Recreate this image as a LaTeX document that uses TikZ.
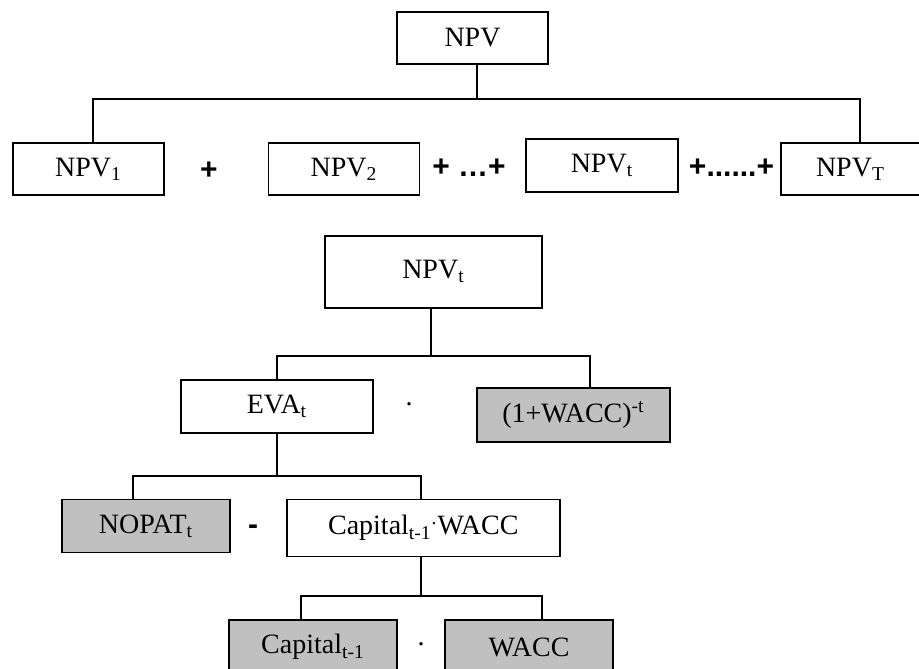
\documentclass[tikz,border=0pt]{standalone}
\usepackage{fontspec}
\setmainfont{Liberation Serif}
\newfontfamily\opfont{Liberation Sans}
\definecolor{boxgrey}{RGB}{192,192,192}
\tikzset{
  box/.style n args={2}{draw, fill=white, inner sep=0pt,
    minimum width=#1*0.5pt, minimum height=#2*0.5pt},
  greybox/.style n args={2}{box={#1}{#2}, fill=boxgrey},
  op/.style={font=\fontsize{15}{17}\opfont\bfseries},
}
\begin{document}
\begin{tikzpicture}[x=0.5pt, y=-0.5pt, line width=0.9pt,
    font=\fontsize{14}{16}\selectfont]
  \useasboundingbox (0,0) rectangle (919,668);
  \def\Ya{98.7}
  \def\Yb{356}
  \def\Yc{476}
  \def\Yd{596}

  % sum of the yearly values
  \node[box={151}{52}] (npv) at (472.5,38) {NPV};
  \node[box={151}{52}] (npvone) at (88.5,169) {NPV\textsubscript{1}};
  \node[op] (plusone) at (209,171) {+};
  \node[box={151}{52}] (npvtwo) at (344,169) {NPV\textsubscript{2}};
  \node[op] (dotsone) at (469,168) {+ …+};
  \node[box={152}{53}] (npvt) at (602,165.5) {NPV\textsubscript{t}};
  \node[op] (dotstwo) at (731.5,168) {+......+};
  \node[box={139}{52}] (npvT) at (850.5,169) {NPV\textsubscript{T}};

  \coordinate (stema) at (477,\Ya);
  \coordinate (busal) at (92.6,\Ya);
  \coordinate (busar) at (860,\Ya);
  \draw (npv.south -| stema) -- (stema);
  \draw (npvone.north -| busal) -- (busal) -- (busar) -- (npvT.north -| busar);

  % one year
  \node[box={217}{72}] (npvyear) at (433.5,272) {NPV\textsubscript{t}\vphantom{p}};
  \node[box={192}{53}] (eva) at (277,406.5) {EVA\textsubscript{t}};
  \node (timesone) at (409,404) {.};
  \node[greybox={193}{54}] (disc) at (573.5,415) {(1+WACC)\textsuperscript{-t}};

  \coordinate (stemb) at (431,\Yb);
  \coordinate (busbl) at (277,\Yb);
  \coordinate (busbr) at (590,\Yb);
  \draw (npvyear.south -| stemb) -- (stemb);
  \draw (eva.north -| busbl) -- (busbl) -- (busbr) -- (disc.north -| busbr);

  % economic value added
  \node[greybox={168}{53}] (nopat) at (146,526) {NOPAT\textsubscript{t}};
  \node[op] (minus) at (253,530) {-};
  \node[box={273}{57}] (capwacc) at (423.3,528)
    {Capital\textsubscript{t-1}\textsuperscript{.}WACC};

  \coordinate (busc) at (277,\Yc);
  \coordinate (buscl) at (133,\Yc);
  \coordinate (buscr) at (421,\Yc);
  \draw (eva.south) -- (busc);
  \draw (nopat.north -| buscl) -- (buscl) -- (buscr) -- (capwacc.north -| buscr);

  % capital charge
  \node[greybox={167.5}{54}] (capital) at (313,647) {Capital\textsubscript{t-1}};
  \node (timestwo) at (421,644) {.};
  \node[greybox={168}{54}] (wacc) at (529,647) {WACC};

  \coordinate (stemd) at (421,\Yd);
  \coordinate (busdl) at (301,\Yd);
  \coordinate (busdr) at (541.8,\Yd);
  \draw (capwacc.south -| stemd) -- (stemd);
  \draw (capital.north -| busdl) -- (busdl) -- (busdr) -- (wacc.north -| busdr);

\end{tikzpicture}
\end{document}
